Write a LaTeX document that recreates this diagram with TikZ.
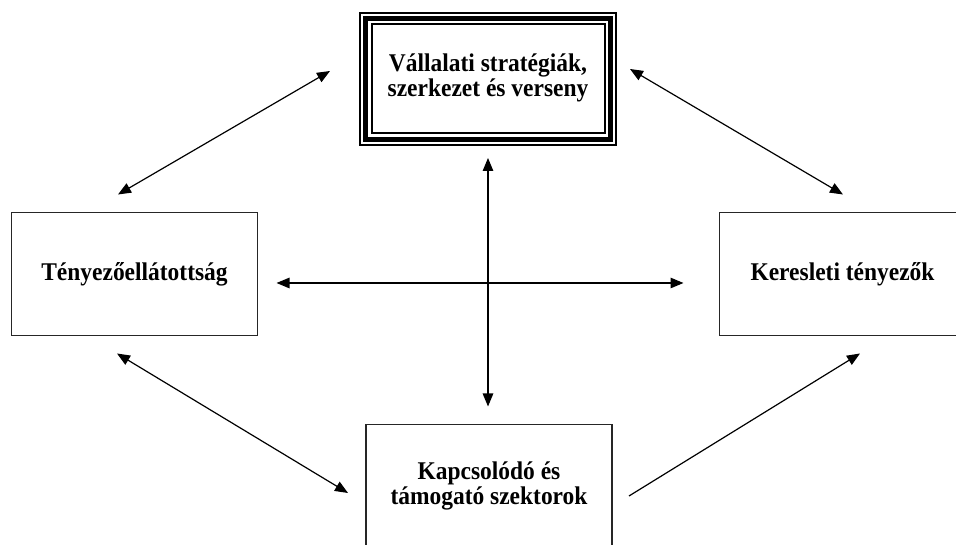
\documentclass[tikz,border=0pt]{standalone}
\usepackage{fontspec}
\setmainfont{Liberation Serif}
\usetikzlibrary{arrows.meta,positioning,calc}
\tikzset{
  >={Triangle[length=13pt,width=10.5pt]},
  txt/.style={align=center,xscale=0.92,transform shape,
    font=\fontsize{25.5}{25}\selectfont\bfseries},
  box/.style={txt,draw=black!85,line width=1.2pt,outer sep=0pt,
    minimum width=267.4pt,minimum height=123pt},
  tribox/.style={draw=black,line width=2pt,outer sep=0pt,
    minimum width=256pt,minimum height=132pt},
  flow/.style={<->,line width=1.2pt,draw=black},
  oneway/.style={->,line width=1.2pt,draw=black},
}
\begin{document}
\begin{tikzpicture}[x=1pt,y=1pt]
  \useasboundingbox (0,0) rectangle (956,545);
  \clip (0,0) rectangle (956,545);
  % the four boxes
  \node[tribox] (strat) at (488,466) {};
  \draw[line width=4.5pt] ([shift={(5.5,-5.5)}]strat.north west) rectangle ([shift={(-5.5,5.5)}]strat.south east);
  \draw[line width=2pt] ([shift={(11.5,-11.5)}]strat.north west) rectangle ([shift={(-11.5,11.5)}]strat.south east);
  \node[txt] (stratlbl) at ([yshift=1pt]strat.center) {Vállalati stratégiák,\\szerkezet és verseny};
  \node[box] (fac) at (134.5,271) {Tényezőellátottság};
  \node[box] (dem) at (842.5,271) {Keresleti tényezők};
  \node[box] (rel) at (489,59) {Kapcsolódó és\\támogató szektorok};
  % connectors
  \draw[flow] ([shift={(-16.5,18)}]fac.north) -- ([shift={(-30,8)}]strat.west);
  \draw[flow] ([shift={(14,10)}]strat.east) -- ([shift={(0.5,18)}]dem.north);
  \draw[flow] ([yshift=-13]strat.south) -- ([shift={(-1,18)}]rel.north);
  \draw[flow] ([shift={(19,-9)}]fac.east) -- ([shift={(-36,-9)}]dem.west);
  \draw[flow] ([shift={(-17.5,-18)}]fac.south) -- ([shift={(-18,-7)}]rel.west);
  \draw[oneway] ([shift={(17,-10)}]rel.east) -- ([shift={(17.5,-18)}]dem.south);
\end{tikzpicture}
\end{document}
